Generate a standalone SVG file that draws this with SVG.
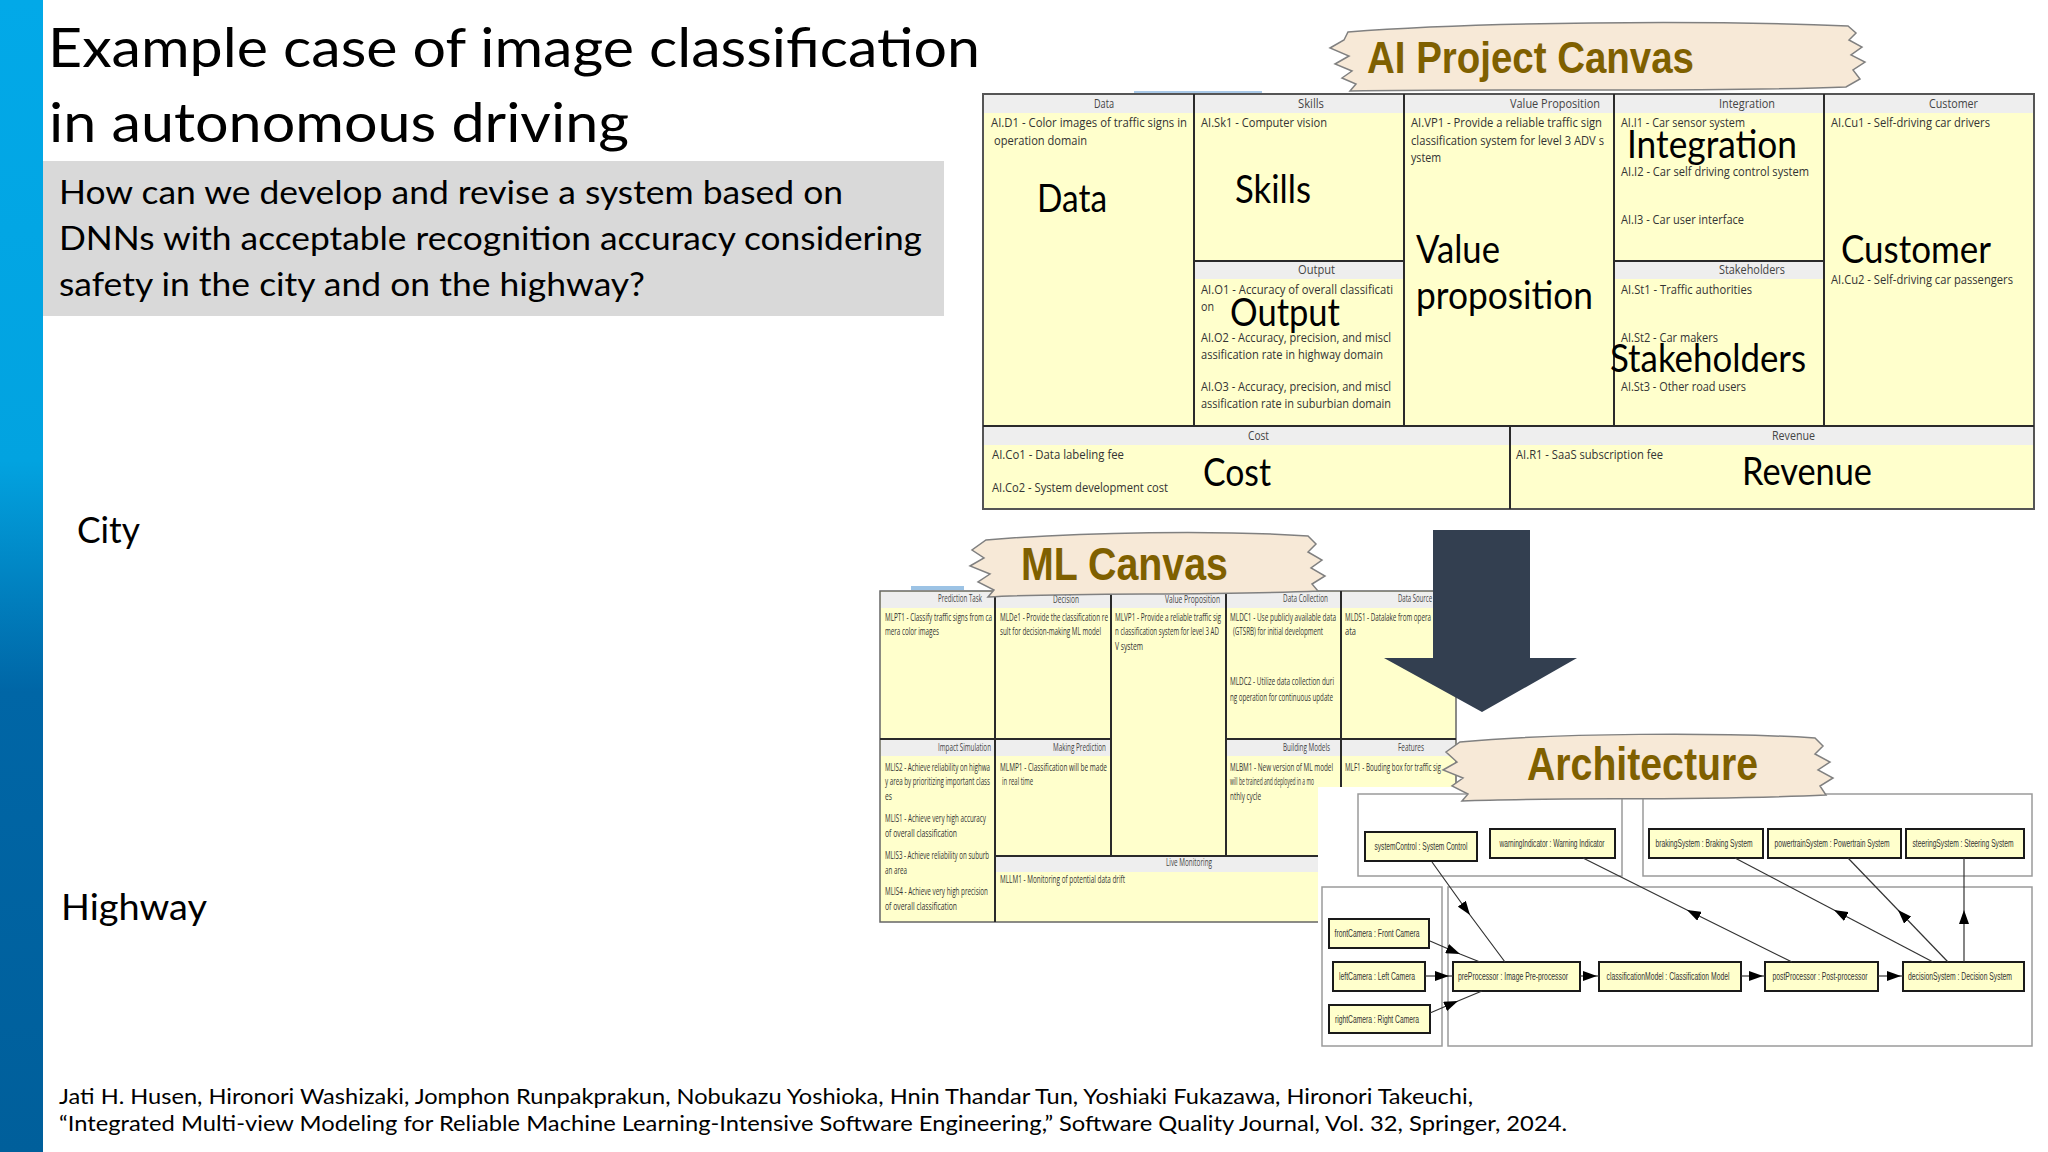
<svg xmlns="http://www.w3.org/2000/svg" width="2048" height="1152" viewBox="0 0 2048 1152">
<defs>
<linearGradient id="bar" x1="0" y1="0" x2="0" y2="1">
<stop offset="0" stop-color="#02a9e8"/>
<stop offset="0.40" stop-color="#02a3e0"/>
<stop offset="0.60" stop-color="#0066a6"/>
<stop offset="1" stop-color="#005f9b"/>
</linearGradient>
<marker id="ah" viewBox="0 0 14 10" refX="14" refY="5" markerWidth="14" markerHeight="10" markerUnits="userSpaceOnUse" orient="auto">
<path d="M0,0 L14,5 L0,10 z" fill="#000"/>
</marker>
<style>
.lato{font-family:Lato,"Open Sans",sans-serif;fill:#000}
.t{font-family:"Open Sans","Noto Sans",sans-serif;font-size:13px;fill:#333}
.h{font-family:"Open Sans","Noto Sans",sans-serif;font-size:12px;fill:#444}
.big{font-family:Lato,"Open Sans",sans-serif;font-size:38px;fill:#000}
.ml{font-family:"Open Sans","Noto Sans",sans-serif;font-size:11px;fill:#333}
.mh{font-family:"Open Sans","Noto Sans",sans-serif;font-size:11px;fill:#444}
.cell{fill:#ffffcc}
.hdr{fill:#eeeeee}
.ln{stroke:#2a2a2a;stroke-width:2;fill:none}
.banner{fill:#f7e9d7;stroke:#808080;stroke-width:1.5}
.bt{font-family:"Liberation Sans",Arial,sans-serif;font-weight:bold;fill:#7f6000}
.grp{fill:#fff;stroke:#9a9a9a;stroke-width:1.5}
.node rect{fill:#ffffcc;stroke:#1a1a1a;stroke-width:2}
.nt{font-family:"Liberation Sans",Arial,sans-serif;font-size:10px;fill:#333;text-anchor:middle}
.conn path{stroke:#333;stroke-width:1.2;fill:none;marker-mid:url(#ah)}
</style>
</defs>
<rect width="2048" height="1152" fill="#fff"/>
<rect x="0" y="0" width="43" height="1152" fill="url(#bar)"/>

<g id="title">
<text class="lato" x="48" y="67" font-size="55" textLength="932" lengthAdjust="spacingAndGlyphs">Example case of image classification</text>
<text class="lato" x="49" y="142" font-size="55" textLength="580" lengthAdjust="spacingAndGlyphs">in autonomous driving</text>
</g>
<g id="question">
<rect x="43" y="161" width="901" height="155" fill="#d9d9d9"/>
<text class="lato" x="59" y="204" font-size="32" textLength="784" lengthAdjust="spacingAndGlyphs">How can we develop and revise a system based on</text>
<text class="lato" x="59" y="250" font-size="32" textLength="863" lengthAdjust="spacingAndGlyphs">DNNs with acceptable recognition accuracy considering</text>
<text class="lato" x="59" y="296" font-size="32" textLength="586" lengthAdjust="spacingAndGlyphs">safety in the city and on the highway?</text>
</g>
<text id="city" class="lato" x="77" y="543" font-size="36" textLength="63" lengthAdjust="spacingAndGlyphs">City</text>
<text id="highway" class="lato" x="61" y="920" font-size="36" textLength="146" lengthAdjust="spacingAndGlyphs">Highway</text>
<g id="footer">
<text class="lato" x="59" y="1104" font-size="22" textLength="1414" lengthAdjust="spacingAndGlyphs">Jati H. Husen, Hironori Washizaki, Jomphon Runpakprakun, Nobukazu Yoshioka, Hnin Thandar Tun, Yoshiaki Fukazawa, Hironori Takeuchi,</text>
<text class="lato" x="59" y="1131" font-size="22" textLength="1508" lengthAdjust="spacingAndGlyphs">“Integrated Multi-view Modeling for Reliable Machine Learning-Intensive Software Engineering,” Software Quality Journal, Vol. 32, Springer, 2024.</text>
</g>

<!-- AI Project Canvas -->
<g id="ai-canvas">
<rect x="1134" y="91" width="128" height="3" fill="#a9c9e8"/>
<rect class="cell" x="983" y="94" width="1051" height="415"/>
<rect class="hdr" x="984" y="95" width="1049" height="18"/>
<rect class="hdr" x="1195" y="262" width="208" height="17"/>
<rect class="hdr" x="1615" y="262" width="208" height="17"/>
<rect class="hdr" x="984" y="427" width="1049" height="18"/>
<rect x="983" y="94" width="1051" height="415" fill="none" stroke="#555" stroke-width="2"/>
<path class="ln" d="M1194,94V426M1404,94V426M1614,94V426M1824,94V426M983,426H2034M1194,261H1404M1614,261H1824M1510,426V509"/>
<g id="ai-data">
<text class="h" x="1094" y="108" textLength="20" lengthAdjust="spacingAndGlyphs">Data</text>
<text class="t" x="991" y="127" textLength="196" lengthAdjust="spacingAndGlyphs">AI.D1 - Color images of traffic signs in</text>
<text class="t" x="994" y="145" textLength="93" lengthAdjust="spacingAndGlyphs">operation domain</text>
<text class="big" x="1037" y="212" textLength="70" lengthAdjust="spacingAndGlyphs">Data</text>
</g>
<g id="ai-skills">
<text class="h" x="1298" y="108" textLength="26" lengthAdjust="spacingAndGlyphs">Skills</text>
<text class="t" x="1201" y="127" textLength="126" lengthAdjust="spacingAndGlyphs">AI.Sk1 - Computer vision</text>
<text class="big" x="1235" y="203" textLength="76" lengthAdjust="spacingAndGlyphs">Skills</text>
</g>
<g id="ai-output">
<text class="h" x="1298" y="274" textLength="37" lengthAdjust="spacingAndGlyphs">Output</text>
<text class="t" x="1201" y="294" textLength="192" lengthAdjust="spacingAndGlyphs">AI.O1 - Accuracy of overall classificati</text>
<text class="t" x="1201" y="311" textLength="13" lengthAdjust="spacingAndGlyphs">on</text>
<text class="big" x="1230" y="326" textLength="110" lengthAdjust="spacingAndGlyphs">Output</text>
<text class="t" x="1201" y="342" textLength="190" lengthAdjust="spacingAndGlyphs">AI.O2 - Accuracy, precision, and miscl</text>
<text class="t" x="1201" y="359" textLength="182" lengthAdjust="spacingAndGlyphs">assification rate in highway domain</text>
<text class="t" x="1201" y="391" textLength="190" lengthAdjust="spacingAndGlyphs">AI.O3 - Accuracy, precision, and miscl</text>
<text class="t" x="1201" y="408" textLength="190" lengthAdjust="spacingAndGlyphs">assification rate in suburbian domain</text>
</g>
<g id="ai-vp">
<text class="h" x="1510" y="108" textLength="90" lengthAdjust="spacingAndGlyphs">Value Proposition</text>
<text class="t" x="1411" y="127" textLength="191" lengthAdjust="spacingAndGlyphs">AI.VP1 - Provide a reliable traffic sign</text>
<text class="t" x="1411" y="145" textLength="193" lengthAdjust="spacingAndGlyphs">classification system for level 3 ADV s</text>
<text class="t" x="1411" y="162" textLength="30" lengthAdjust="spacingAndGlyphs">ystem</text>
<text class="big" x="1416" y="263" textLength="84" lengthAdjust="spacingAndGlyphs">Value</text>
<text class="big" x="1416" y="309" textLength="177" lengthAdjust="spacingAndGlyphs">proposition</text>
</g>
<g id="ai-integration">
<text class="h" x="1719" y="108" textLength="56" lengthAdjust="spacingAndGlyphs">Integration</text>
<text class="t" x="1621" y="127" textLength="124" lengthAdjust="spacingAndGlyphs">AI.I1 - Car sensor system</text>
<text class="big" x="1627" y="158" textLength="170" lengthAdjust="spacingAndGlyphs">Integration</text>
<text class="t" x="1621" y="176" textLength="188" lengthAdjust="spacingAndGlyphs">AI.I2 - Car self driving control system</text>
<text class="t" x="1621" y="224" textLength="123" lengthAdjust="spacingAndGlyphs">AI.I3 - Car user interface</text>
</g>
<g id="ai-stakeholders">
<text class="h" x="1719" y="274" textLength="66" lengthAdjust="spacingAndGlyphs">Stakeholders</text>
<text class="t" x="1621" y="294" textLength="131" lengthAdjust="spacingAndGlyphs">AI.St1 - Traffic authorities</text>
<text class="t" x="1621" y="342" textLength="97" lengthAdjust="spacingAndGlyphs">AI.St2 - Car makers</text>
<text class="big" x="1610" y="372" textLength="196" lengthAdjust="spacingAndGlyphs">Stakeholders</text>
<text class="t" x="1621" y="391" textLength="125" lengthAdjust="spacingAndGlyphs">AI.St3 - Other road users</text>
</g>
<g id="ai-customer">
<text class="h" x="1929" y="108" textLength="49" lengthAdjust="spacingAndGlyphs">Customer</text>
<text class="t" x="1831" y="127" textLength="159" lengthAdjust="spacingAndGlyphs">AI.Cu1 - Self-driving car drivers</text>
<text class="big" x="1841" y="263" textLength="150" lengthAdjust="spacingAndGlyphs">Customer</text>
<text class="t" x="1831" y="284" textLength="182" lengthAdjust="spacingAndGlyphs">AI.Cu2 - Self-driving car passengers</text>
</g>
<g id="ai-cost">
<text class="h" x="1248" y="440" textLength="21" lengthAdjust="spacingAndGlyphs">Cost</text>
<text class="t" x="992" y="459" textLength="132" lengthAdjust="spacingAndGlyphs">AI.Co1 - Data labeling fee</text>
<text class="t" x="992" y="492" textLength="176" lengthAdjust="spacingAndGlyphs">AI.Co2 - System development cost</text>
<text class="big" x="1203" y="486" textLength="68" lengthAdjust="spacingAndGlyphs">Cost</text>
</g>
<g id="ai-revenue">
<text class="h" x="1772" y="440" textLength="43" lengthAdjust="spacingAndGlyphs">Revenue</text>
<text class="t" x="1516" y="459" textLength="147" lengthAdjust="spacingAndGlyphs">AI.R1 - SaaS subscription fee</text>
<text class="big" x="1742" y="485" textLength="130" lengthAdjust="spacingAndGlyphs">Revenue</text>
</g>
</g>
<g id="ai-banner">
<path class="banner" d="M1348,32 C1480,22 1700,20 1848,26 L1856,33 L1849,40 L1862,47 L1851,55 L1865,62 L1853,70 L1860,79 L1846,87 C1700,93 1500,88 1350,91 L1356,84 L1342,78 L1352,71 L1335,64 L1349,56 L1330,48 L1344,40 Z"/>
<text class="bt" x="1367" y="73" font-size="44" textLength="327" lengthAdjust="spacingAndGlyphs">AI Project Canvas</text>
</g>

<!-- ML Canvas -->
<g id="ml-canvas">
<rect x="911" y="586" width="53" height="4" fill="#9cc3e5"/>
<rect class="cell" x="880" y="591" width="576" height="331"/>
<rect class="hdr" x="881" y="592" width="574" height="16"/>
<rect class="hdr" x="881" y="740" width="230" height="16"/>
<rect class="hdr" x="1227" y="740" width="228" height="16"/>
<rect class="hdr" x="996" y="857" width="459" height="15"/>
<rect x="880" y="591" width="576" height="331" fill="none" stroke="#666" stroke-width="1.5"/>
<path class="ln" d="M995,591V922M1111,591V856M1226,591V856M1341,591V856M880,739H1111M1226,739H1456M995,856H1456"/>
<text class="mh" x="938" y="602" textLength="44" lengthAdjust="spacingAndGlyphs">Prediction Task</text>
<text class="mh" x="1053" y="603" textLength="26" lengthAdjust="spacingAndGlyphs">Decision</text>
<text class="mh" x="1165" y="603" textLength="55" lengthAdjust="spacingAndGlyphs">Value Proposition</text>
<text class="mh" x="1283" y="602" textLength="45" lengthAdjust="spacingAndGlyphs">Data Collection</text>
<text class="mh" x="1398" y="602" textLength="34" lengthAdjust="spacingAndGlyphs">Data Source</text>
<text class="mh" x="938" y="751" textLength="53" lengthAdjust="spacingAndGlyphs">Impact Simulation</text>
<text class="mh" x="1053" y="751" textLength="53" lengthAdjust="spacingAndGlyphs">Making Prediction</text>
<text class="mh" x="1283" y="751" textLength="47" lengthAdjust="spacingAndGlyphs">Building Models</text>
<text class="mh" x="1398" y="751" textLength="26" lengthAdjust="spacingAndGlyphs">Features</text>
<text class="mh" x="1166" y="866" textLength="46" lengthAdjust="spacingAndGlyphs">Live Monitoring</text>
<text class="ml" x="885" y="621" textLength="107" lengthAdjust="spacingAndGlyphs">MLPT1 - Classify traffic signs from ca</text>
<text class="ml" x="885" y="635" textLength="54" lengthAdjust="spacingAndGlyphs">mera color images</text>
<text class="ml" x="1000" y="621" textLength="108" lengthAdjust="spacingAndGlyphs">MLDe1 - Provide the classification re</text>
<text class="ml" x="1000" y="635" textLength="101" lengthAdjust="spacingAndGlyphs">sult for decision-making ML model</text>
<text class="ml" x="1115" y="621" textLength="106" lengthAdjust="spacingAndGlyphs">MLVP1 - Provide a reliable traffic sig</text>
<text class="ml" x="1115" y="635" textLength="104" lengthAdjust="spacingAndGlyphs">n classification system for level 3 AD</text>
<text class="ml" x="1115" y="650" textLength="28" lengthAdjust="spacingAndGlyphs">V system</text>
<text class="ml" x="1230" y="621" textLength="106" lengthAdjust="spacingAndGlyphs">MLDC1 - Use publicly available data</text>
<text class="ml" x="1233" y="635" textLength="90" lengthAdjust="spacingAndGlyphs">(GTSRB) for initial development</text>
<text class="ml" x="1230" y="685" textLength="104" lengthAdjust="spacingAndGlyphs">MLDC2 - Utilize data collection duri</text>
<text class="ml" x="1230" y="701" textLength="103" lengthAdjust="spacingAndGlyphs">ng operation for continuous update</text>
<text class="ml" x="1345" y="621" textLength="86" lengthAdjust="spacingAndGlyphs">MLDS1 - Datalake from opera</text>
<text class="ml" x="1345" y="635" textLength="11" lengthAdjust="spacingAndGlyphs">ata</text>
<text class="ml" x="885" y="771" textLength="105" lengthAdjust="spacingAndGlyphs">MLIS2 - Achieve reliability on highwa</text>
<text class="ml" x="885" y="785" textLength="105" lengthAdjust="spacingAndGlyphs">y area by prioritizing important class</text>
<text class="ml" x="885" y="800" textLength="7" lengthAdjust="spacingAndGlyphs">es</text>
<text class="ml" x="885" y="822" textLength="101" lengthAdjust="spacingAndGlyphs">MLIS1 - Achieve very high accuracy</text>
<text class="ml" x="885" y="837" textLength="72" lengthAdjust="spacingAndGlyphs">of overall classification</text>
<text class="ml" x="885" y="859" textLength="104" lengthAdjust="spacingAndGlyphs">MLIS3 - Achieve reliability on suburb</text>
<text class="ml" x="885" y="874" textLength="22" lengthAdjust="spacingAndGlyphs">an area</text>
<text class="ml" x="885" y="895" textLength="103" lengthAdjust="spacingAndGlyphs">MLIS4 - Achieve very high precision</text>
<text class="ml" x="885" y="910" textLength="72" lengthAdjust="spacingAndGlyphs">of overall classification</text>
<text class="ml" x="1000" y="771" textLength="107" lengthAdjust="spacingAndGlyphs">MLMP1 - Classification will be made</text>
<text class="ml" x="1002" y="785" textLength="31" lengthAdjust="spacingAndGlyphs">in real time</text>
<text class="ml" x="1230" y="771" textLength="103" lengthAdjust="spacingAndGlyphs">MLBM1 - New version of ML model</text>
<text class="ml" x="1230" y="785" textLength="84" lengthAdjust="spacingAndGlyphs">will be trained and deployed in a mo</text>
<text class="ml" x="1230" y="800" textLength="31" lengthAdjust="spacingAndGlyphs">nthly cycle</text>
<text class="ml" x="1345" y="771" textLength="96" lengthAdjust="spacingAndGlyphs">MLF1 - Bouding box for traffic sig</text>
<text class="ml" x="1000" y="883" textLength="125" lengthAdjust="spacingAndGlyphs">MLLM1 - Monitoring of potential data drift</text>
</g>
<g id="ml-banner">
<path class="banner" d="M986,540 C1080,532 1220,530 1308,536 L1316,544 L1308,552 L1322,560 L1311,568 L1325,576 L1312,584 L1318,591 C1200,596 1080,592 988,597 L994,590 L978,582 L990,574 L970,566 L984,558 L972,550 Z"/>
<text class="bt" x="1021" y="580" font-size="46" textLength="207" lengthAdjust="spacingAndGlyphs">ML Canvas</text>
</g>

<g id="down-arrow">
<polygon points="1433,530 1530,530 1530,658 1577,658 1482,712 1384,658 1433,658" fill="#333f50"/>
</g>

<!-- Architecture -->
<g id="architecture">
<rect x="1318" y="787" width="722" height="262" fill="#fff"/>
<rect class="grp" x="1358" y="794" width="264" height="82"/>
<rect class="grp" x="1643" y="794" width="389" height="82"/>
<rect class="grp" x="1322" y="887" width="120" height="159"/>
<rect class="grp" x="1448" y="887" width="584" height="159"/>
<g id="systemControl" class="node"><rect x="1365" y="832" width="112" height="29"/><text class="nt" x="1421" y="850" textLength="93" lengthAdjust="spacingAndGlyphs">systemControl : System Control</text></g>
<g id="warningIndicator" class="node"><rect x="1490" y="829" width="125" height="29"/><text class="nt" x="1552" y="847" textLength="105" lengthAdjust="spacingAndGlyphs">warningIndicator : Warning Indicator</text></g>
<g id="brakingSystem" class="node"><rect x="1649" y="829" width="114" height="29"/><text class="nt" x="1704" y="847" textLength="97" lengthAdjust="spacingAndGlyphs">brakingSystem : Braking System</text></g>
<g id="powertrainSystem" class="node"><rect x="1768" y="829" width="133" height="29"/><text class="nt" x="1832" y="847" textLength="115" lengthAdjust="spacingAndGlyphs">powertrainSystem : Powertrain System</text></g>
<g id="steeringSystem" class="node"><rect x="1906" y="829" width="118" height="29"/><text class="nt" x="1963" y="847" textLength="101" lengthAdjust="spacingAndGlyphs">steeringSystem : Steering System</text></g>
<g id="frontCamera" class="node"><rect x="1329" y="919" width="100" height="29"/><text class="nt" x="1377" y="937" textLength="85" lengthAdjust="spacingAndGlyphs">frontCamera : Front Camera</text></g>
<g id="leftCamera" class="node"><rect x="1333" y="962" width="92" height="29"/><text class="nt" x="1377" y="980" textLength="76" lengthAdjust="spacingAndGlyphs">leftCamera : Left Camera</text></g>
<g id="rightCamera" class="node"><rect x="1329" y="1005" width="101" height="28"/><text class="nt" x="1377" y="1023" textLength="84" lengthAdjust="spacingAndGlyphs">rightCamera : Right Camera</text></g>
<g id="preProcessor" class="node"><rect x="1453" y="962" width="127" height="29"/><text class="nt" x="1513" y="980" textLength="110" lengthAdjust="spacingAndGlyphs">preProcessor : Image Pre-processor</text></g>
<g id="classificationModel" class="node"><rect x="1599" y="962" width="142" height="29"/><text class="nt" x="1668" y="980" textLength="123" lengthAdjust="spacingAndGlyphs">classificationModel : Classification Model</text></g>
<g id="postProcessor" class="node"><rect x="1765" y="962" width="113" height="29"/><text class="nt" x="1820" y="980" textLength="95" lengthAdjust="spacingAndGlyphs">postProcessor : Post-processor</text></g>
<g id="decisionSystem" class="node"><rect x="1903" y="962" width="121" height="29"/><text class="nt" x="1960" y="980" textLength="104" lengthAdjust="spacingAndGlyphs">decisionSystem : Decision System</text></g>
</g>
<g id="connectors" class="conn">
<path d="M1432,862 L1470,915 L1505,962"/>
<path d="M1792,962 L1687,910 L1583,858"/>
<path d="M1933,962 L1834,910 L1735,858"/>
<path d="M1948,962 L1898,910 L1848,858"/>
<path d="M1964,962 L1964,910 L1964,858"/>
<path d="M1430,941 L1460,954 L1480,962"/>
<path d="M1425,976 L1449,976 L1453,976"/>
<path d="M1430,1013 L1458,1001 L1482,991"/>
<path d="M1580,976 L1597,976 L1599,976"/>
<path d="M1741,976 L1763,976 L1765,976"/>
<path d="M1878,976 L1901,976 L1903,976"/>
</g>
<g id="arch-banner">
<path class="banner" d="M1460,742 C1560,733 1720,732 1815,738 L1823,746 L1815,754 L1830,762 L1818,770 L1833,778 L1820,786 L1826,795 C1700,801 1560,797 1462,801 L1468,794 L1452,786 L1463,778 L1443,770 L1457,762 L1446,752 Z"/>
<text class="bt" x="1527" y="780" font-size="46" textLength="231" lengthAdjust="spacingAndGlyphs">Architecture</text>
</g>
</svg>
